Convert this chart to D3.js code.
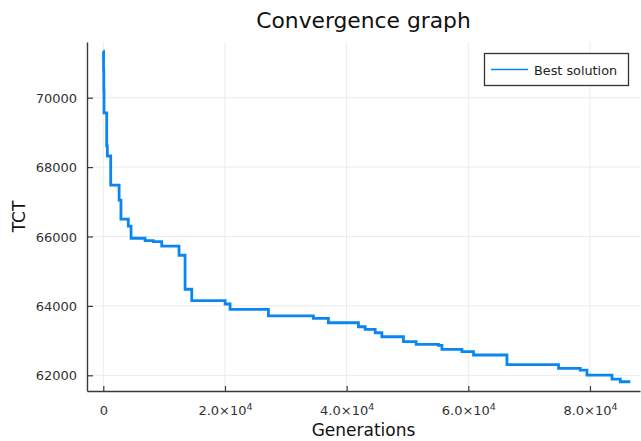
<!DOCTYPE html>
<html>
<head>
<meta charset="utf-8">
<script src="https://cdn.jsdelivr.net/npm/d3@7"></script>
<style>
  html, body { margin: 0; padding: 0; background: #fff; }
  svg { display: block; font-family: "DejaVu Sans", sans-serif; }
</style>
</head>
<body>
<svg id="chart" width="641" height="441"></svg>
<script>
// ---- data ----
const generations = [0, 40, 80, 115, 560, 660, 1220, 2600, 2900, 4110, 4560, 6860, 8220, 9600, 12450, 13440, 14540, 20020, 20840, 27140, 34540, 37000, 41940, 43040, 44690, 45790, 49340, 51430, 55080, 55660, 58950, 60860, 66350, 74830, 78400, 79500, 83620, 84980, 86630];
const tct = [71340, 70800, 70220, 69560, 68610, 68320, 67480, 67050, 66500, 66300, 65950, 65880, 65850, 65725, 65460, 64480, 64150, 64055, 63900, 63710, 63640, 63515, 63400, 63325, 63227, 63112, 62968, 62893, 62864, 62748, 62680, 62585, 62310, 62200, 62152, 62008, 61893, 61815, 61815];
const xTicks = [0, 20000, 40000, 60000, 80000];
const xTickMantissa = ["0", "2.0", "4.0", "6.0", "8.0"];
const yTicks = [62000, 64000, 66000, 68000, 70000];
const seriesName = "Best solution";
const titleText = "Convergence graph";
const xLabel = "Generations";
const yLabel = "TCT";

// ---- layout ----
const svg = d3.select("#chart");
const pLeft = 87, pRight = 640, pTop = 42, pBottom = 391;
const lineColor = "#0a86f0";

const x = d3.scaleLinear().domain([-2679, 88220]).range([pLeft, pRight]);
const y = d3.scaleLinear().domain([61548, 71605]).range([pBottom, pTop]);

// grid
const grid = svg.append("g");
grid.selectAll("line.vx").data(xTicks).join("line")
  .attr("x1", d => x(d)).attr("x2", d => x(d))
  .attr("y1", pTop).attr("y2", pBottom)
  .attr("stroke", "#ebebeb").attr("stroke-width", 1);
grid.selectAll("line.hy").data(yTicks).join("line")
  .attr("x1", pLeft).attr("x2", pRight)
  .attr("y1", d => y(d)).attr("y2", d => y(d))
  .attr("stroke", "#ebebeb").attr("stroke-width", 1);

// axes
const xAxis = svg.append("g").attr("transform", `translate(0,${pBottom})`)
  .call(d3.axisBottom(x).tickValues(xTicks).tickSizeInner(-5).tickSizeOuter(0).tickPadding(10).tickFormat(""));
const yAxis = svg.append("g").attr("transform", `translate(${pLeft},0)`)
  .call(d3.axisLeft(y).tickValues(yTicks).tickSizeInner(-6).tickSizeOuter(0).tickPadding(10).tickFormat(d3.format("d")));

[xAxis, yAxis].forEach(a => {
  a.attr("font-size", 13).attr("font-family", "DejaVu Sans, sans-serif");
  a.select(".domain").attr("stroke", "#3a3a3a").attr("stroke-width", 1.4);
  a.selectAll(".tick line").attr("stroke", "#3a3a3a").attr("stroke-width", 1.2);
  a.selectAll(".tick text").attr("fill", "#333").attr("font-size", 13);
});
yAxis.selectAll(".tick text").attr("x", -10).attr("dy", "0.35em");

// x tick labels with superscripts
xAxis.selectAll(".tick").each(function(d, i) {
  const t = d3.select(this).select("text").attr("y", 15).attr("dy", "0.71em");
  t.text(null);
  if (d === 0) {
    t.append("tspan").text(xTickMantissa[i]);
  } else {
    t.append("tspan").text(xTickMantissa[i] + "×10");
    t.append("tspan").attr("dy", "-5").attr("font-size", 9.5).text("4");
  }
});

// line
const line = d3.line().x((d, i) => x(generations[i])).y(d => y(d)).curve(d3.curveStepAfter);
svg.append("path").datum(tct)
  .attr("d", line)
  .attr("fill", "none")
  .attr("stroke", lineColor)
  .attr("stroke-width", 2.8)
  .attr("stroke-linejoin", "miter");

// title and labels
svg.append("text").attr("x", (pLeft + pRight) / 2).attr("y", 28)
  .attr("text-anchor", "middle").attr("font-size", 21.8).attr("fill", "#111").text(titleText);
svg.append("text").attr("x", (pLeft + pRight) / 2).attr("y", 436)
  .attr("text-anchor", "middle").attr("font-size", 17).attr("fill", "#111").text(xLabel);
svg.append("text").attr("transform", `translate(25,${(pTop + pBottom) / 2}) rotate(-90)`)
  .attr("text-anchor", "middle").attr("font-size", 17).attr("fill", "#111").text(yLabel);

// legend
const lg = svg.append("g");
lg.append("rect").attr("x", 484.5).attr("y", 53.5).attr("width", 144).attr("height", 32)
  .attr("fill", "#fff").attr("stroke", "#333").attr("stroke-width", 1.3);
lg.append("line").attr("x1", 491).attr("x2", 528).attr("y1", 69.5).attr("y2", 69.5)
  .attr("stroke", lineColor).attr("stroke-width", 1.4);
lg.append("text").attr("x", 534).attr("y", 74.5).attr("font-size", 12.8).attr("fill", "#222").text(seriesName);
</script>
</body>
</html>
